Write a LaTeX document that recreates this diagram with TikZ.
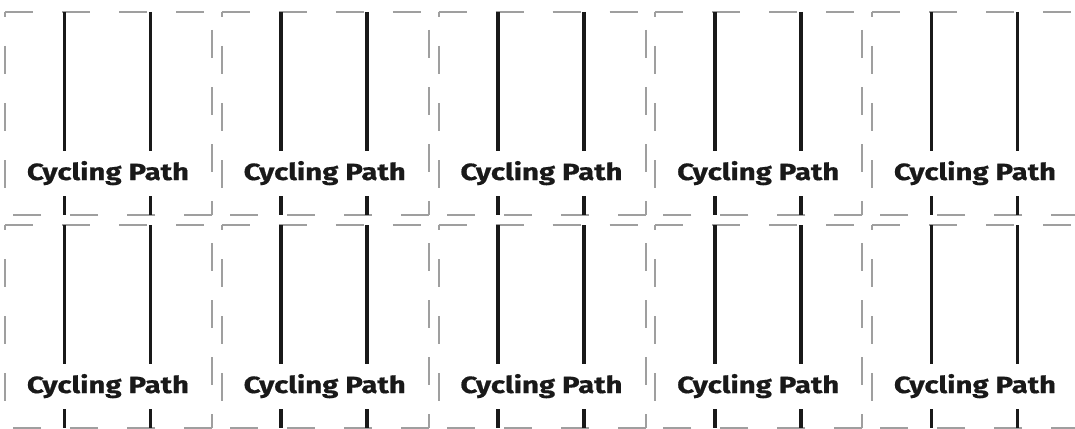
\documentclass[tikz,border=0pt]{standalone}
\usepackage{fontspec}
\setmainfont{Fira Sans}
\newfontfamily\signfont{Fira Sans Bold}[FakeBold=0.6]
\usepackage{graphicx}
\begin{document}
\begin{tikzpicture}[x=1pt,y=-1pt,
  tileborder/.style={draw=gray!75, line width=2pt, dash pattern=on 28pt off 29pt},
  lane/.style={draw=black!90, line width=3.8pt},
  pathlabel/.style={anchor=base, inner sep=0pt, text=black!90, font=\signfont}]
\useasboundingbox[fill=white] (0,0) rectangle (1075,428);
\foreach \c in {0,...,4}{
  \foreach \r in {0,1}{
    \pgfmathsetmacro\L{5+216.75*\c}
    \pgfmathsetmacro\T{12+213*\r}
    \pgfmathsetmacro\R{\L+207}
    \pgfmathsetmacro\B{\T+203}
    \pgfmathsetmacro\Xa{\L+59.5}
    \pgfmathsetmacro\Xb{\L+145.5}
    \pgfmathsetmacro\Ya{\T+139}
    \pgfmathsetmacro\Yb{\T+184}
    \coordinate (tl-\c-\r) at (\L,\T);
    \coordinate (tr-\c-\r) at (\R,\T);
    \coordinate (br-\c-\r) at (\R,\B);
    \coordinate (bl-\c-\r) at (\L,\B);
    \draw[tileborder] (tl-\c-\r) -- (tr-\c-\r);
    \draw[tileborder,dash phase=39pt] (tr-\c-\r) -- (br-\c-\r);
    \draw[tileborder] (br-\c-\r) -- (bl-\c-\r);
    \draw[tileborder,dash phase=23pt] (tl-\c-\r) -- (bl-\c-\r);
    \coordinate (la1-\c-\r) at (\Xa,\T);
    \coordinate (la2-\c-\r) at (\Xa,\Ya);
    \coordinate (la3-\c-\r) at (\Xa,\Yb);
    \coordinate (la4-\c-\r) at (\Xa,\B);
    \coordinate (lb1-\c-\r) at (\Xb,\T);
    \coordinate (lb2-\c-\r) at (\Xb,\Ya);
    \coordinate (lb3-\c-\r) at (\Xb,\Yb);
    \coordinate (lb4-\c-\r) at (\Xb,\B);
    \draw[lane] (la1-\c-\r) -- (la2-\c-\r) (la3-\c-\r) -- (la4-\c-\r);
    \draw[lane] (lb1-\c-\r) -- (lb2-\c-\r) (lb3-\c-\r) -- (lb4-\c-\r);
    \node[pathlabel] (cp-\c-\r) at (\L+103,\T+168) {\resizebox{162pt}{19pt}{Cycling Path}};
  }
}
\end{tikzpicture}
\end{document}
